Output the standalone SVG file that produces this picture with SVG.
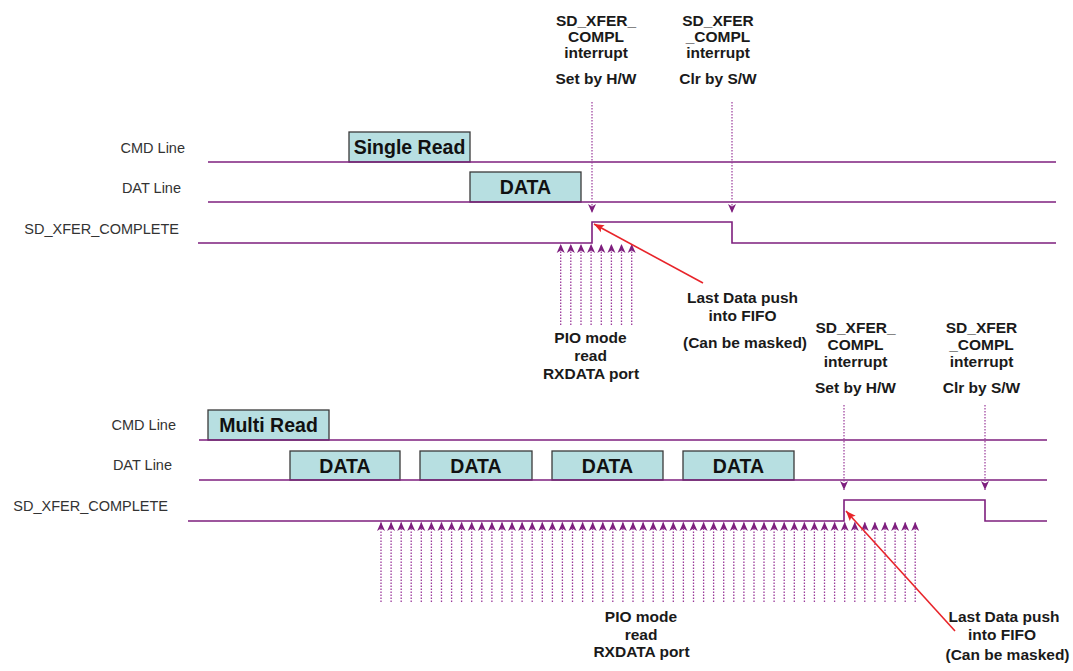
<svg xmlns="http://www.w3.org/2000/svg" xmlns:xlink="http://www.w3.org/1999/xlink" width="1073" height="671" viewBox="0 0 1073 671">
  <style>
    .sig { fill: none; stroke: #7e1f7e; stroke-width: 1.6; }
    .box { fill: #b7dfe1; stroke: #3a3a3a; stroke-width: 1.3; }
    .boxtxt { font-family: "Liberation Sans", Arial, sans-serif; font-weight: bold; font-size: 19.5px; fill: #111; text-anchor: middle; }
    .lbl { font-family: "Liberation Sans", Arial, sans-serif; font-size: 14.5px; fill: #333; text-anchor: end; }
    .note { font-family: "Liberation Sans", Arial, sans-serif; font-weight: bold; font-size: 15.5px; fill: #1a1a1a; text-anchor: middle; }
    .pio { stroke: #9a3a9a; stroke-width: 1.3; stroke-dasharray: 1.6 1.4; fill: none; }
    .irq { stroke: #9a3a9a; stroke-width: 1.2; stroke-dasharray: 1.6 1.4; fill: none; }
    .red { stroke: #e8242a; stroke-width: 1.6; fill: none; }
  </style>
  <defs>
    <marker id="headP" markerUnits="userSpaceOnUse" markerWidth="14" markerHeight="14" viewBox="-11 -7 13 14" refX="0" refY="0" orient="auto">
      <path d="M0,0 L-9,-4 L-6.5,0 L-9,4 Z" fill="#7e1f7e"/>
    </marker>
    <marker id="headR" markerUnits="userSpaceOnUse" markerWidth="14" markerHeight="14" viewBox="-12 -7 14 14" refX="0" refY="0" orient="auto">
      <path d="M0,0 L-10,-4 L-8,0 L-10,4 Z" fill="#e8242a"/>
    </marker>
    <line id="pioTop" x1="0" y1="325" x2="0" y2="244" class="pio" marker-end="url(#headP)"/>
    <line id="pioBot" x1="0" y1="602" x2="0" y2="522" class="pio" marker-end="url(#headP)"/>
  </defs>

  <!-- ===== Single read ===== -->
  <g id="single-labels">
    <text class="lbl" x="185" y="152.5">CMD Line</text>
    <text class="lbl" x="181" y="193">DAT Line</text>
    <text class="lbl" x="179" y="234">SD_XFER_COMPLETE</text>
  </g>

  <g id="single-cmd">
    <rect class="box" x="349" y="132" width="121" height="30"/>
    <text class="boxtxt" x="409.5" y="154">Single Read</text>
  </g>
  <g id="single-data">
    <rect class="box" x="470" y="172" width="111" height="30"/>
    <text class="boxtxt" x="525.5" y="194">DATA</text>
  </g>

  <g id="single-set-note">
    <text class="note" x="596" y="26">SD_XFER_</text>
    <text class="note" x="596" y="42">COMPL</text>
    <text class="note" x="596" y="58">interrupt</text>
    <text class="note" x="596" y="84">Set by H/W</text>
  </g>
  <g id="single-clr-note">
    <text class="note" x="718" y="26">SD_XFER</text>
    <text class="note" x="718" y="42">_COMPL</text>
    <text class="note" x="718" y="58">interrupt</text>
    <text class="note" x="718" y="84">Clr by S/W</text>
  </g>
  <g id="single-last-note">
    <text class="note" x="742.5" y="303">Last Data push</text>
    <text class="note" x="742.5" y="320.5">into FIFO</text>
    <text class="note" x="745" y="348">(Can be masked)</text>
  </g>
  <g id="single-pio-note">
    <text class="note" x="590.5" y="343">PIO mode</text>
    <text class="note" x="590.5" y="361">read</text>
    <text class="note" x="591" y="379">RXDATA port</text>
  </g>

  <!-- ===== Multi read ===== -->
  <g id="multi-labels">
    <text class="lbl" x="176" y="430">CMD Line</text>
    <text class="lbl" x="172" y="470">DAT Line</text>
    <text class="lbl" x="168" y="510.5">SD_XFER_COMPLETE</text>
  </g>

  <g id="multi-cmd">
    <rect class="box" x="208" y="410" width="121" height="30"/>
    <text class="boxtxt" x="268.5" y="431.5">Multi Read</text>
  </g>
  <g id="multi-data-1">
    <rect class="box" x="290" y="451" width="110" height="29"/>
    <text class="boxtxt" x="345" y="472.5">DATA</text>
  </g>
  <g id="multi-data-2">
    <rect class="box" x="420" y="451" width="112" height="29"/>
    <text class="boxtxt" x="476" y="472.5">DATA</text>
  </g>
  <g id="multi-data-3">
    <rect class="box" x="552" y="451" width="111" height="29"/>
    <text class="boxtxt" x="607.5" y="472.5">DATA</text>
  </g>
  <g id="multi-data-4">
    <rect class="box" x="683" y="451" width="111" height="29"/>
    <text class="boxtxt" x="738.5" y="472.5">DATA</text>
  </g>

  <g id="multi-set-note">
    <text class="note" x="855.5" y="333">SD_XFER_</text>
    <text class="note" x="855.5" y="350">COMPL</text>
    <text class="note" x="855.5" y="367">interrupt</text>
    <text class="note" x="855.5" y="393">Set by H/W</text>
  </g>
  <g id="multi-clr-note">
    <text class="note" x="981.5" y="333">SD_XFER</text>
    <text class="note" x="981.5" y="350">_COMPL</text>
    <text class="note" x="981.5" y="367">interrupt</text>
    <text class="note" x="981.5" y="393">Clr by S/W</text>
  </g>
  <g id="multi-last-note">
    <text class="note" x="1004" y="622">Last Data push</text>
    <text class="note" x="1002" y="640">into FIFO</text>
    <text class="note" x="1007.5" y="660">(Can be masked)</text>
  </g>
  <g id="multi-pio-note">
    <text class="note" x="641" y="622">PIO mode</text>
    <text class="note" x="641" y="639.5">read</text>
    <text class="note" x="641.5" y="657">RXDATA port</text>
  </g>

  <!-- ===== Signal traces and pointers ===== -->
  <g id="connectors">
    <!-- single read waveforms -->
    <line class="sig" x1="208" y1="162" x2="1056" y2="162"/>
    <line class="sig" x1="208" y1="202" x2="1056" y2="202"/>
    <polyline class="sig" points="198,243 592,243 592,222 732,222 732,243 1056,243"/>
    <!-- single read interrupt markers -->
    <line class="irq" x1="592" y1="102" x2="592" y2="213" marker-end="url(#headP)"/>
    <line class="irq" x1="732" y1="102" x2="732" y2="213" marker-end="url(#headP)"/>
    <!-- single read PIO reads -->
    <use xlink:href="#pioTop" x="560.7"/>
    <use xlink:href="#pioTop" x="570.8"/>
    <use xlink:href="#pioTop" x="581"/>
    <use xlink:href="#pioTop" x="591.1"/>
    <use xlink:href="#pioTop" x="601.3"/>
    <use xlink:href="#pioTop" x="611.4"/>
    <use xlink:href="#pioTop" x="621.5"/>
    <use xlink:href="#pioTop" x="631.7"/>
    <line class="red" x1="703" y1="283" x2="594" y2="224" marker-end="url(#headR)"/>

    <!-- multi read waveforms -->
    <line class="sig" x1="199" y1="440" x2="1047" y2="440"/>
    <line class="sig" x1="199" y1="480" x2="1047" y2="480"/>
    <polyline class="sig" points="188,521 844,521 844,500 985,500 985,521 1047,521"/>
    <!-- multi read interrupt markers -->
    <line class="irq" x1="844" y1="405" x2="844" y2="490" marker-end="url(#headP)"/>
    <line class="irq" x1="985" y1="405" x2="985" y2="490" marker-end="url(#headP)"/>
    <!-- multi read PIO reads -->
    <use xlink:href="#pioBot" x="381"/>
    <use xlink:href="#pioBot" x="391.1"/>
    <use xlink:href="#pioBot" x="401.2"/>
    <use xlink:href="#pioBot" x="411.2"/>
    <use xlink:href="#pioBot" x="421.3"/>
    <use xlink:href="#pioBot" x="431.4"/>
    <use xlink:href="#pioBot" x="441.5"/>
    <use xlink:href="#pioBot" x="451.6"/>
    <use xlink:href="#pioBot" x="461.6"/>
    <use xlink:href="#pioBot" x="471.7"/>
    <use xlink:href="#pioBot" x="481.8"/>
    <use xlink:href="#pioBot" x="491.9"/>
    <use xlink:href="#pioBot" x="502"/>
    <use xlink:href="#pioBot" x="512"/>
    <use xlink:href="#pioBot" x="522.1"/>
    <use xlink:href="#pioBot" x="532.2"/>
    <use xlink:href="#pioBot" x="542.3"/>
    <use xlink:href="#pioBot" x="552.4"/>
    <use xlink:href="#pioBot" x="562.4"/>
    <use xlink:href="#pioBot" x="572.5"/>
    <use xlink:href="#pioBot" x="582.6"/>
    <use xlink:href="#pioBot" x="592.7"/>
    <use xlink:href="#pioBot" x="602.8"/>
    <use xlink:href="#pioBot" x="612.8"/>
    <use xlink:href="#pioBot" x="622.9"/>
    <use xlink:href="#pioBot" x="633"/>
    <use xlink:href="#pioBot" x="643.1"/>
    <use xlink:href="#pioBot" x="653.2"/>
    <use xlink:href="#pioBot" x="663.2"/>
    <use xlink:href="#pioBot" x="673.3"/>
    <use xlink:href="#pioBot" x="683.4"/>
    <use xlink:href="#pioBot" x="693.5"/>
    <use xlink:href="#pioBot" x="703.6"/>
    <use xlink:href="#pioBot" x="713.6"/>
    <use xlink:href="#pioBot" x="723.7"/>
    <use xlink:href="#pioBot" x="733.8"/>
    <use xlink:href="#pioBot" x="743.9"/>
    <use xlink:href="#pioBot" x="754"/>
    <use xlink:href="#pioBot" x="764"/>
    <use xlink:href="#pioBot" x="774.1"/>
    <use xlink:href="#pioBot" x="784.2"/>
    <use xlink:href="#pioBot" x="794.3"/>
    <use xlink:href="#pioBot" x="804.4"/>
    <use xlink:href="#pioBot" x="814.4"/>
    <use xlink:href="#pioBot" x="824.5"/>
    <use xlink:href="#pioBot" x="834.6"/>
    <use xlink:href="#pioBot" x="844.7"/>
    <use xlink:href="#pioBot" x="854.8"/>
    <use xlink:href="#pioBot" x="864.8"/>
    <use xlink:href="#pioBot" x="874.9"/>
    <use xlink:href="#pioBot" x="885"/>
    <use xlink:href="#pioBot" x="895.1"/>
    <use xlink:href="#pioBot" x="905.2"/>
    <use xlink:href="#pioBot" x="915.2"/>
    <line class="red" x1="955" y1="631" x2="846" y2="511" marker-end="url(#headR)"/>
  </g>
</svg>
